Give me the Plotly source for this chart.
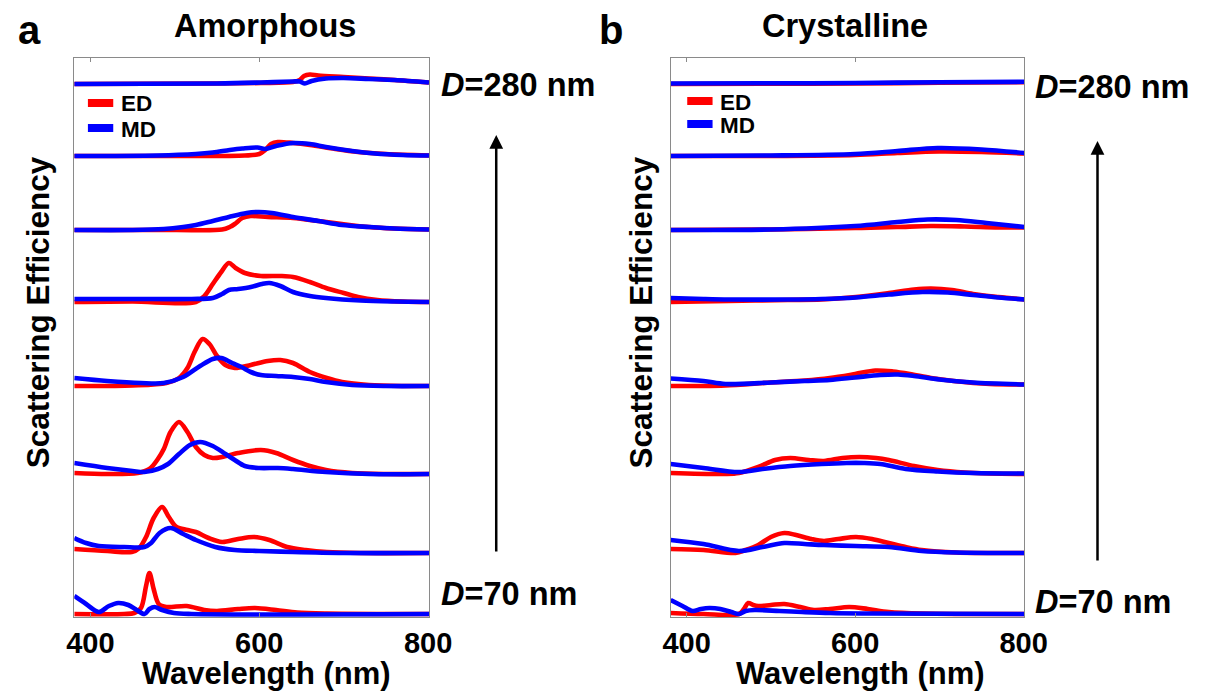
import plotly.graph_objects as go

# ---------------- data ----------------
wl_ticks = [400, 600, 800]
diameters = [70, 100, 130, 160, 190, 220, 250, 280]
offsets = [0, 6.1, 14.0, 22.8, 31.2, 38.4, 45.8, 53.0]

# Amorphous particles: (wavelength nm, scattering efficiency) per diameter
a_ed_70 = [(381, 0.0), (440, 0.0), (452, 0.1), (460, 0.6), (466, 2.8), (470, 4.1), (475, 2.5), (481, 1.0), (490, 0.7),
           (514, 0.8), (535, 0.4), (550, 0.3), (575, 0.5), (595, 0.6), (620, 0.4), (645, 0.15), (680, 0.05), (801, 0.0)]
a_md_70 = [(381, 1.8), (395, 1.0), (410, 0.2), (422, 0.8), (433, 1.1), (445, 0.9), (455, 0.4), (464, 0.0), (470, 0.5),
           (476, 0.7), (485, 0.4), (499, 0.1), (520, 0.0), (801, 0.0)]
a_ed_100 = [(381, 0.4), (420, 0.2), (449, 0.1), (458, 0.5), (466, 1.6), (475, 3.5), (485, 4.6), (493, 3.6), (502, 2.6),
            (515, 2.3), (525, 2.1), (540, 1.5), (556, 1.1), (575, 1.4), (594, 1.6), (612, 1.3), (633, 0.6), (655, 0.3),
            (680, 0.1), (720, 0.0), (801, 0.0)]
a_md_100 = [(381, 1.5), (395, 1.0), (410, 0.7), (440, 0.6), (464, 0.6), (472, 1.0), (482, 2.0), (495, 2.5), (510, 1.9),
            (525, 1.3), (548, 0.6), (571, 0.3), (600, 0.2), (640, 0.1), (700, 0.0), (801, 0.0)]
a_ed_130 = [(381, 0.1), (420, 0.0), (456, 0.1), (470, 0.5), (480, 1.5), (487, 2.5), (495, 4.2), (505, 5.2), (515, 4.2),
            (525, 2.7), (535, 1.9), (545, 1.6), (556, 1.7), (575, 2.1), (602, 2.4), (620, 2.1), (640, 1.4), (660, 0.8),
            (679, 0.4), (710, 0.1), (750, 0.0), (801, 0.0)]
a_md_130 = [(381, 1.1), (420, 0.6), (450, 0.3), (464, 0.2), (480, 0.5), (492, 1.0), (505, 2.0), (518, 2.9), (530, 3.2),
            (545, 2.8), (560, 2.0), (571, 1.4), (583, 0.8), (600, 0.6), (622, 0.6), (640, 0.5), (679, 0.2), (730, 0.0),
            (801, 0.0)]
a_ed_160 = [(381, 0.0), (450, 0.05), (490, 0.3), (505, 0.8), (515, 1.8), (524, 3.5), (533, 4.7), (541, 4.2), (550, 3.0),
            (560, 2.1), (571, 1.8), (590, 2.1), (610, 2.5), (625, 2.6), (640, 2.3), (660, 1.4), (680, 0.8), (698, 0.4),
            (730, 0.1), (770, 0.0), (801, 0.0)]
a_md_160 = [(381, 0.8), (420, 0.5), (460, 0.3), (487, 0.3), (510, 0.9), (530, 2.0), (545, 2.7), (555, 2.8), (568, 2.3),
            (579, 1.9), (590, 1.4), (602, 1.1), (620, 1.0), (640, 0.9), (660, 0.7), (679, 0.4), (710, 0.1), (750, 0.0),
            (801, 0.0)]
a_ed_190 = [(381, 0.0), (450, 0.05), (525, 0.0), (535, 0.6), (545, 1.8), (555, 3.0), (564, 3.9), (572, 3.4), (583, 2.9),
            (602, 2.6), (625, 2.6), (640, 2.5), (660, 2.0), (679, 1.4), (700, 0.9), (717, 0.5), (740, 0.2), (770, 0.05),
            (801, 0.0)]
a_md_190 = [(381, 0.3), (450, 0.3), (520, 0.3), (545, 0.4), (556, 0.8), (564, 1.2), (575, 1.3), (590, 1.5), (603, 1.8),
            (612, 1.9), (625, 1.6), (640, 1.0), (660, 0.6), (679, 0.4), (720, 0.15), (760, 0.05), (801, 0.0)]
a_ed_220 = [(381, 0.0), (500, 0.0), (556, 0.05), (565, 0.3), (571, 0.6), (580, 1.2), (590, 1.4), (610, 1.3), (640, 1.2),
            (670, 0.9), (698, 0.6), (730, 0.3), (760, 0.15), (801, 0.05)]
a_md_220 = [(381, 0.0), (450, 0.0), (487, 0.1), (510, 0.3), (525, 0.5), (545, 0.9), (564, 1.3), (585, 1.7), (599, 1.8),
            (615, 1.7), (640, 1.3), (670, 0.9), (698, 0.5), (730, 0.3), (760, 0.15), (801, 0.05)]
a_ed_250 = [(381, 0.0), (500, 0.0), (583, 0.05), (600, 0.2), (607, 0.6), (614, 1.2), (622, 1.4), (640, 1.3), (660, 1.1),
            (690, 0.7), (717, 0.4), (750, 0.2), (801, 0.05)]
a_md_250 = [(381, 0.0), (480, 0.05), (525, 0.2), (545, 0.35), (565, 0.6), (580, 0.75), (598, 0.85), (607, 0.7), (620, 1.0),
            (640, 1.3), (660, 1.2), (679, 0.9), (710, 0.5), (737, 0.25), (770, 0.1), (801, 0.05)]
a_ed_280 = [(381, 0.0), (550, 0.05), (602, 0.1), (640, 0.2), (648, 0.4), (653, 0.8), (660, 0.95), (670, 0.85), (700, 0.7),
            (730, 0.55), (760, 0.4), (801, 0.15)]
a_md_280 = [(381, 0.0), (550, 0.05), (602, 0.15), (640, 0.25), (648, 0.25), (654, 0.05), (662, 0.3), (679, 0.55),
            (700, 0.6), (730, 0.5), (760, 0.4), (801, 0.15)]

# Crystalline particles
c_ed_70 = [(381, 0.1), (420, 0.0), (462, 0.0), (468, 0.5), (473, 1.1), (479, 0.9), (485, 0.8), (500, 0.9), (516, 1.0),
           (535, 0.7), (551, 0.4), (570, 0.5), (593, 0.7), (615, 0.5), (640, 0.2), (680, 0.05), (801, 0.0)]
c_md_70 = [(381, 1.4), (395, 0.8), (407, 0.3), (417, 0.5), (427, 0.6), (440, 0.5), (453, 0.2), (462, 0.0), (470, 0.3),
           (481, 0.4), (510, 0.3), (537, 0.2), (570, 0.1), (620, 0.05), (801, 0.0)]
c_ed_100 = [(381, 0.4), (420, 0.3), (458, 0.0), (470, 0.3), (485, 0.8), (500, 1.6), (516, 2.0), (530, 1.8), (548, 1.4),
            (563, 1.2), (580, 1.4), (601, 1.6), (620, 1.4), (640, 1.0), (660, 0.6), (679, 0.3), (720, 0.05), (801, 0.0)]
c_md_100 = [(381, 1.3), (420, 0.9), (462, 0.2), (490, 0.6), (516, 1.0), (540, 0.9), (563, 0.8), (601, 0.7), (640, 0.6),
            (679, 0.2), (720, 0.05), (801, 0.0)]
c_ed_130 = [(381, 0.1), (446, 0.0), (462, 0.1), (485, 0.7), (505, 1.4), (523, 1.6), (545, 1.4), (563, 1.3), (585, 1.6),
            (605, 1.7), (625, 1.6), (640, 1.4), (670, 0.8), (698, 0.4), (730, 0.15), (760, 0.05), (801, 0.0)]
c_md_130 = [(381, 1.0), (420, 0.6), (462, 0.2), (490, 0.5), (523, 0.8), (560, 1.0), (590, 1.1), (610, 1.1), (630, 1.0),
            (660, 0.5), (698, 0.25), (740, 0.1), (801, 0.05)]
c_ed_160 = [(381, 0.0), (420, 0.0), (446, 0.05), (500, 0.35), (540, 0.55), (570, 0.8), (600, 1.2), (624, 1.55),
            (645, 1.45), (665, 1.2), (690, 0.8), (717, 0.5), (760, 0.2), (801, 0.15)]
c_md_160 = [(381, 0.75), (420, 0.5), (446, 0.2), (500, 0.35), (540, 0.5), (570, 0.6), (600, 0.85), (630, 1.1),
            (651, 1.15), (670, 1.0), (700, 0.65), (740, 0.35), (801, 0.15)]
c_ed_190 = [(381, 0.0), (450, 0.1), (520, 0.2), (560, 0.25), (601, 0.5), (640, 0.9), (670, 1.25), (690, 1.35),
            (715, 1.2), (740, 0.8), (770, 0.5), (801, 0.25)]
c_md_190 = [(381, 0.4), (420, 0.3), (450, 0.25), (520, 0.25), (560, 0.3), (601, 0.45), (640, 0.75), (680, 1.0),
            (710, 0.95), (740, 0.7), (770, 0.45), (801, 0.25)]
c_ed_220 = [(381, 0.0), (500, 0.05), (600, 0.2), (650, 0.3), (690, 0.4), (730, 0.35), (770, 0.25), (801, 0.25)]
c_md_220 = [(381, 0.0), (500, 0.05), (600, 0.4), (650, 0.8), (686, 1.05), (720, 1.0), (756, 0.7), (801, 0.3)]
c_ed_250 = [(381, 0.0), (500, 0.0), (600, 0.1), (650, 0.3), (700, 0.45), (750, 0.4), (801, 0.25)]
c_md_250 = [(381, 0.0), (500, 0.05), (600, 0.2), (650, 0.5), (698, 0.8), (750, 0.65), (801, 0.3)]
c_ed_280 = [(381, 0.0), (500, 0.02), (600, 0.05), (700, 0.12), (801, 0.18)]
c_md_280 = [(381, 0.05), (500, 0.07), (600, 0.1), (700, 0.17), (801, 0.22)]

amorphous_ed = [a_ed_70, a_ed_100, a_ed_130, a_ed_160, a_ed_190, a_ed_220, a_ed_250, a_ed_280]
amorphous_md = [a_md_70, a_md_100, a_md_130, a_md_160, a_md_190, a_md_220, a_md_250, a_md_280]
crystalline_ed = [c_ed_70, c_ed_100, c_ed_130, c_ed_160, c_ed_190, c_ed_220, c_ed_250, c_ed_280]
crystalline_md = [c_md_70, c_md_100, c_md_130, c_md_160, c_md_190, c_md_220, c_md_250, c_md_280]

series_names = ["ED", "MD"]

# ---------------- style ----------------
W, H = 1216, 693
FONT = "Liberation Sans"
RED = "#ff0000"
BLUE = "#0000ff"
FRAME = "#8a8a8a"
LW = 4.6


def fx(p):
    return p / W


def fy(p):
    return 1 - p / H


fig = go.Figure()

panels = [
    ("x", "y", amorphous_ed, amorphous_md),
    ("x2", "y2", crystalline_ed, crystalline_md),
]

for xa, ya, ed_set, md_set in panels:
    for d, off, ed, md in zip(diameters, offsets, ed_set, md_set):
        for curve, color, name in ((ed, RED, series_names[0]), (md, BLUE, series_names[1])):
            fig.add_trace(go.Scatter(
                x=[p[0] for p in curve],
                y=[off + p[1] for p in curve],
                mode="lines",
                line=dict(color=color, width=LW, shape="spline", smoothing=0.9),
                name=f"{name} D={d} nm",
                showlegend=False,
                xaxis=xa, yaxis=ya,
                hoverinfo="skip",
            ))

xdoms = [[fx(68), fx(432)], [fx(680), fx(1043)]]
ydom = [fy(617), fy(58)]

xaxis_common = dict(
    range=[381, 801], tickvals=wl_ticks, ticktext=[str(v) for v in wl_ticks],
    ticks="inside", ticklen=4, tickcolor=FRAME, tickwidth=1,
    showline=True, linecolor=FRAME, linewidth=1, mirror="ticks",
    showgrid=False, zeroline=False,
    tickfont=dict(family=FONT, size=29, color="black", weight="bold"),
)
yaxis_common = dict(
    range=[-0.3, 55.6], showticklabels=False, ticks="",
    showline=True, linecolor=FRAME, linewidth=1, mirror=True,
    showgrid=False, zeroline=False,
)

fig.update_layout(
    width=W, height=H, autosize=False,
    margin=dict(l=0, r=0, t=0, b=0, pad=0),
    paper_bgcolor="white", plot_bgcolor="white",
    xaxis=dict(domain=xdoms[0], anchor="y", **xaxis_common),
    yaxis=dict(domain=ydom, anchor="x", **yaxis_common),
    xaxis2=dict(domain=xdoms[1], anchor="y2", **xaxis_common),
    yaxis2=dict(domain=ydom, anchor="x2", **yaxis_common),
    showlegend=False,
)

ann = []
shapes = []


def text(x, y, s, size, xanchor="center", yanchor="middle", angle=0):
    ann.append(dict(
        x=fx(x), y=fy(y), xref="paper", yref="paper", text=s, showarrow=False,
        xanchor=xanchor, yanchor=yanchor, textangle=angle,
        font=dict(family=FONT, size=size, color="black", weight="bold"),
    ))


# panel letters and titles
text(22, 30, "a", 40)
text(619, 30, "b", 40)
text(264, 26, "Amorphous", 32.5)
text(859, 26, "Crystalline", 32.5)

# axis titles
text(31, 312, "Scattering Efficiency", 31.5, angle=-90)
text(650, 312, "Scattering Efficiency", 31.5, angle=-90)
text(265, H, "Wavelength (nm)", 31, yanchor="bottom")
text(875, H, "Wavelength (nm)", 31, yanchor="bottom")

# diameter labels
text(442, 85, "<i>D</i>=280 nm", 32.5, xanchor="left")
text(442, 594, "<i>D</i>=70 nm", 32.5, xanchor="left")
text(1052, 87, "<i>D</i>=280 nm", 32.5, xanchor="left")
text(1052, 602, "<i>D</i>=70 nm", 32.5, xanchor="left")

# legend keys in each panel
for (x0, x1, xt, rows) in ((82, 108, 114, (103, 128)), (697, 723, 729, (101, 124))):
    for color, name, yrow in zip((RED, BLUE), series_names, rows):
        shapes.append(dict(type="line", xref="paper", yref="paper",
                           x0=fx(x0), x1=fx(x1), y0=fy(yrow), y1=fy(yrow),
                           line=dict(color=color, width=8)))
        text(xt, yrow + 1, name, 22.5, xanchor="left")

# growth arrows
for x0, y_tip, y_tail in ((501, 135, 553), (1118, 141, 562)):
    ann.append(dict(
        x=fx(x0), y=fy(y_tip), xref="paper", yref="paper",
        ax=0, ay=y_tail - y_tip, axref="pixel", ayref="pixel",
        text="", showarrow=True, arrowhead=2, arrowsize=1.1, arrowwidth=2.5,
        arrowcolor="black",
    ))

fig.update_layout(annotations=ann, shapes=shapes)

fig.write_html(
    "out.html",
    config={"responsive": False, "displayModeBar": False},
    post_script=("document.documentElement.style.overflow='hidden';"
                 "document.body.style.margin='0';"
                 "document.body.style.overflow='hidden';"),
)
